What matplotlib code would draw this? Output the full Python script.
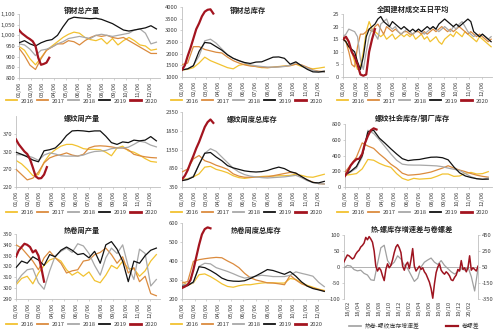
import numpy as np
import matplotlib
matplotlib.use('Agg')
import matplotlib.pyplot as plt
from matplotlib.ticker import FuncFormatter
from matplotlib.lines import Line2D

plt.rcParams['font.family'] = ['Noto Sans CJK SC', 'DejaVu Sans']
plt.rcParams['axes.unicode_minus'] = False

# ---------------- data ----------------
years = ['2016', '2017', '2018', '2019', '2020']
month_labels = ['01/06', '02/06', '03/06', '04/06', '05/06', '06/06',
                '07/06', '08/06', '09/06', '10/06', '11/06', '12/06']
month_days = [0, 31, 59, 90, 120, 151, 181, 212, 243, 273, 304, 334]

# panel 1: 钢材总产量 (biweekly)
p1_2016 = [948,930,890,862,895,930,950,970,990,1005,1015,1010,990,980,975,985,960,985,955,975,990,975,955,950,930,935]
p1_2017 = [940,905,860,840,890,930,945,960,960,975,970,955,975,990,1000,995,1000,990,985,990,975,960,945,930,915,915]
p1_2018 = [960,955,935,905,930,935,945,960,970,985,990,995,990,985,1000,1005,1000,995,1000,1005,1010,1025,1030,1010,960,968]
p1_2019 = [965,975,960,950,965,975,980,1000,1040,1075,1085,1082,1080,1078,1080,1075,1065,1055,1040,1025,1020,1025,1030,1035,1045,1030]
p1_2020 = [1025,1010,1000,990,982,972,950,895,862,866,872,895]

# panel 2: 钢材总库存
p2_2016 = [1300,1330,1400,1600,1850,1700,1600,1500,1400,1350,1500,1550,1500,1450,1400,1400,1420,1450,1470,1500,1550,1450,1400,1350,1380,1420]
p2_2017 = [1530,1600,2300,2300,2180,2120,2060,2030,1850,1700,1600,1520,1470,1450,1420,1400,1420,1440,1460,1480,1550,1520,1420,1300,1250,1230]
p2_2018 = [1310,1350,1500,1900,2550,2620,2450,2200,1950,1800,1700,1600,1520,1480,1450,1430,1420,1430,1450,1500,1620,1500,1380,1280,1230,1200]
p2_2019 = [1300,1350,1480,2100,2480,2450,2300,2150,1950,1800,1700,1620,1580,1640,1650,1750,1850,1860,1800,1550,1650,1480,1330,1220,1210,1250]
p2_2020 = [1310,1500,1900,2250,2650,3050,3300,3600,3800,3880,3900,3720]

# panel 3: 全国建材成交五日平均 (weekly)
p3_2016 = [15,14,12,10,6,3,4,10,18,22,19,18,17,16,17,15,16,17,15,16,17,16,17,16,17,15,16,17,15,16,14,15,16,14,13,15,16,17,16,18,17,16,18,17,16,15,14,16,15,14,13,12]
p3_2017 = [16,14,10,5,4,12,17,17,18,19,18,20,21,19,17,20,19,18,19,18,17,18,18,17,17,18,18,17,18,17,18,19,18,19,20,19,18,19,18,19,20,19,18,17,18,17,16,17,16,15,14,15]
p3_2018 = [16,17,19,18.5,18,16,7,3,10,16,19,17,15,21,22,23,20,19,20,18,17,18,19,18,17,18,19,18,17,18,19,20,19,18,19,20,19,18,20,19,21,22,20,18,17,16,17,16,17,16,15,16]
p3_2019 = [15,14,12,11,10,6,3,8,16,19,20,21,23,24,22,21,20,22,21,20,19,20,19,18,19,18,19,18,19,20,19,20,19,21,22,23,22,21,20,21,20,21,22,23,22,18,17,16,17,16,15,14]
p3_2020 = [15,16,14,10,8,5,1,0.5,1,10,15,19]

# panel 4: 螺纹周产量
p4_2016 = [295,285,270,252,255,290,312,325,335,340,340,335,328,326,326,325,318,308,330,335,322,318,310,300,292,290]
p4_2017 = [270,255,240,245,262,288,302,308,311,316,310,307,312,330,335,336,335,333,330,330,325,312,308,305,303,302]
p4_2018 = [311,311,308,303,295,310,316,313,308,307,307,307,310,316,320,321,323,328,330,330,332,340,349,346,338,333]
p4_2019 = [318,312,305,296,291,322,325,330,345,365,378,379,378,376,378,378,363,345,340,347,345,352,350,352,362,350]
p4_2020 = [354,340,330,320,313,298,275,250,244,245,255,276]

# panel 5: 螺纹周度总库存
p5_2016 = [550,570,620,700,880,900,820,780,730,650,600,580,600,620,630,640,640,650,650,660,690,660,620,610,650,690]
p5_2017 = [750,830,1100,1190,1050,1000,930,880,820,700,640,610,610,615,615,620,650,680,710,740,720,610,540,480,440,430]
p5_2018 = [520,560,640,950,1250,1370,1300,1150,1000,850,750,680,640,620,600,590,600,610,620,640,660,600,520,470,440,430]
p5_2019 = [520,550,620,950,1250,1270,1150,1050,920,860,820,780,760,750,760,790,840,880,840,760,720,630,540,470,460,500]
p5_2020 = [560,650,800,1000,1180,1380,1550,1750,1950,2080,2150,2060]

# panel 6: 螺纹社会库存/钢厂库存
p6_2016 = [150,158,170,230,350,340,300,270,250,170,110,85,110,100,105,110,135,165,165,135,140,175,185,165,170,195]
p6_2017 = [190,280,380,560,520,490,420,360,290,240,175,150,155,162,175,190,215,240,270,240,215,195,170,150,135,125]
p6_2018 = [150,190,240,380,720,680,600,510,420,340,290,280,278,278,275,272,268,258,240,225,210,170,130,105,98,115]
p6_2019 = [150,200,260,400,700,720,620,555,485,420,360,335,345,350,365,378,380,372,345,255,180,140,120,105,98,100]
p6_2020 = [140,200,275,320,353,360,420,560,650,720,745,730]

# panel 7: 热卷周产量
p7_2016 = [303,309,311,304,314,321,326,328,325,317,312,315,311,315,307,305,312,321,318,325,318,318,311,316,325,331]
p7_2017 = [340,337,331,325,317,328,334,328,323,314,316,317,325,326,331,333,337,331,323,329,314,319,306,311,295,293]
p7_2018 = [305,312,317,318,305,299,316,330,334,337,333,341,339,332,321,312,328,337,332,340,320,308,336,332,302,308]
p7_2019 = [319,325,323,329,326,321,331,329,335,338,335,331,332,328,334,323,340,343,336,325,306,325,323,330,335,337]
p7_2020 = [329,335,338,341,340,338,333,335,330,319,306]

# panel 8: 热卷周度总库存
p8_2016 = [293,272,285,328,332,318,300,280,266,262,270,275,275,280,284,286,285,284,284,308,303,285,272,262,252,245]
p8_2017 = [284,292,398,407,412,416,419,417,400,385,365,335,312,300,293,285,284,280,275,325,300,280,268,258,250,242]
p8_2018 = [275,278,285,372,388,385,365,355,345,333,320,310,315,320,325,322,318,318,318,325,343,335,328,320,288,265]
p8_2019 = [267,270,290,370,365,350,332,310,298,294,293,296,308,322,338,355,350,340,330,344,320,290,268,255,248,240]
p8_2020 = [258,265,275,300,354,420,485,540,568,577,572]

# panel 9: 热卷-螺纹库存增速差 (left) and 卷螺差 (right)
p9_labels = ['18/02', '18/04', '18/06', '18/08', '18/10', '18/12', '19/02',
             '19/04', '19/06', '19/08', '19/10', '19/12', '20/02']
p9_gap = [-3,5,3,-8,-12,-10,-20,-25,-40,-42,10,60,68,20,5,15,35,25,5,-5,-25,-45,-35,0,15,22,28,15,8,20,5,-5,-15,-22,-15,-5,-10,0,-30,-75,-5]
p9_spread = [115,160,200,190,170,150,165,210,240,260,300,320,350,420,390,430,400,360,250,60,0,40,10,-60,-120,20,90,40,70,140,
             230,300,330,290,230,60,10,80,110,30,140,280,60,0,30,60,20,40,-10,-40,-90,-140,-220,-340,-160,-20,50,90,10,-20,
             -40,-10,-30,-60,-110,-120,-80,-50,20,0,130,20,40,-10,40,190,10,40,20,0,60]

colors = ['#F2C230', '#DB8B3E', '#A8A8A8', '#111111', '#A3141F']
widths = [0.9, 0.9, 0.9, 0.9, 1.6]

panels = [
    dict(title='钢材总产量', data=[p1_2016, p1_2017, p1_2018, p1_2019, p1_2020], step=2,
         ylim=(800, 1100), yticks=[800, 850, 900, 950, 1000, 1050, 1100], comma=True,
         box=(19, 14, 160, 78), tpos=(82, 10), lpos=(82, 101)),
    dict(title='钢材总库存', data=[p2_2016, p2_2017, p2_2018, p2_2019, p2_2020], step=2,
         ylim=(1000, 4000), yticks=[1000, 1500, 2000, 2500, 3000, 3500, 4000], comma=False,
         box=(182, 7, 328, 77), tpos=(248, 10), lpos=(247, 101)),
    dict(title='全国建材成交五日平均', data=[p3_2016, p3_2017, p3_2018, p3_2019, p3_2020], step=1,
         ylim=(0, 25), yticks=[0, 5, 10, 15, 20, 25], comma=False,
         box=(343, 14, 492, 77), tpos=(413, 9), lpos=(413, 101)),
    dict(title='螺纹周产量', data=[p4_2016, p4_2017, p4_2018, p4_2019, p4_2020], step=2,
         ylim=(220, 420), yticks=[220, 270, 320, 370], comma=False,
         box=(16, 116, 160, 187), tpos=(82, 118), lpos=(82, 212)),
    dict(title='螺纹周度总库存', data=[p5_2016, p5_2017, p5_2018, p5_2019, p5_2020], step=2,
         ylim=(350, 2350), yticks=[350, 850, 1350, 1850, 2350], comma=False,
         box=(182, 112, 328, 187), tpos=(252, 119), lpos=(247, 212)),
    dict(title='螺纹社会库存/钢厂库存', data=[p6_2016, p6_2017, p6_2018, p6_2019, p6_2020], step=2,
         ylim=(0, 800), yticks=[0, 200, 400, 600, 800], comma=False,
         box=(345, 124, 492, 187), tpos=(412, 118), lpos=(413, 212)),
    dict(title='热卷周产量', data=[p7_2016, p7_2017, p7_2018, p7_2019, p7_2020], step=2,
         ylim=(290, 350), yticks=[290, 300, 310, 320, 330, 340, 350], comma=False,
         box=(16, 234, 160, 299), tpos=(82, 230), lpos=(82, 324)),
    dict(title='热卷周度总库存', data=[p8_2016, p8_2017, p8_2018, p8_2019, p8_2020], step=2,
         ylim=(200, 600), yticks=[200, 300, 400, 500, 600], comma=False,
         box=(182, 223, 328, 299), tpos=(256, 230), lpos=(247, 324)),
]

W, H = 500, 333
fig = plt.figure(figsize=(W / 100, H / 100), dpi=100)

def rect(l, t, r, b):
    return [l / W, 1 - b / H, (r - l) / W, (b - t) / H]

def fxy(x, y):
    return (x / W, 1 - y / H)

TICK_FS = 4.2
AX_C = '#BFBFBF'
TXT_C = '#404040'

month_pos = [d / 7.0 for d in month_days]

for p in panels:
    ax = fig.add_axes(rect(*p['box']))
    for i, vals in enumerate(p['data']):
        if i < 4:
            x = np.arange(len(vals)) * p['step']
        else:
            x = np.arange(len(vals))
        ax.plot(x, vals, color=colors[i], lw=widths[i], zorder=2 + i,
                solid_joinstyle='round')
    ax.set_xlim(0, 51.3)
    ax.set_ylim(*p['ylim'])
    ax.set_yticks(p['yticks'])
    if p['comma']:
        ax.yaxis.set_major_formatter(FuncFormatter(lambda v, _: f'{v:,.0f}'))
    ax.set_xticks(month_pos)
    ax.set_xticklabels(month_labels, rotation=90)
    for s in ['top', 'right']:
        ax.spines[s].set_visible(False)
    for s in ['left', 'bottom']:
        ax.spines[s].set_color(AX_C)
        ax.spines[s].set_linewidth(0.6)
    ax.tick_params(axis='both', labelsize=TICK_FS, colors=TXT_C, length=1.5,
                   width=0.5, pad=1.2)
    ax.tick_params(axis='both', color=AX_C)
    ax.patch.set_alpha(0)
    fig.text(*fxy(*p['tpos']), p['title'], ha='center', va='center',
             fontsize=5.2, fontweight='bold', color='#222222')
    handles = [Line2D([], [], color=colors[i], lw=widths[i] + 0.4) for i in range(5)]
    fig.legend(handles, years, loc='center', bbox_to_anchor=fxy(*p['lpos']),
               ncol=5, frameon=False, fontsize=TICK_FS, handlelength=1.9,
               handletextpad=0.6, columnspacing=0.6, borderpad=0.1,
               labelcolor=TXT_C)

# panel 9
ax = fig.add_axes(rect(344, 235, 478, 299))
x_gap = np.linspace(-0.86, 25.7, len(p9_gap))
x_spread = np.linspace(-0.86, 25.7, len(p9_spread))
ax.plot(x_gap, p9_gap, color='#A0A0A0', lw=0.9, zorder=3)
ax.axhline(0, color='#A6A6A6', lw=0.6, zorder=1)
ax.set_xlim(-0.86, 25.7)
ax.set_ylim(-100, 100)
ax.set_yticks([-100, -50, 0, 50, 100])
ax.set_xticks(np.arange(0, 26, 2))
ax.set_xticklabels(p9_labels, rotation=90)
ax2 = ax.twinx()
ax2.plot(x_spread, p9_spread, color='#9E1420', lw=1.1, zorder=4)
ax2.set_ylim(-350, 450)
ax2.set_yticks([-350, -150, 50, 250, 450])
for a in (ax, ax2):
    for s in ['top', 'bottom']:
        a.spines[s].set_visible(False)
    for s in ['left', 'right']:
        a.spines[s].set_color(AX_C)
        a.spines[s].set_linewidth(0.6)
    a.tick_params(axis='both', labelsize=TICK_FS, colors=TXT_C, length=1.5,
                  width=0.5, pad=1.2)
    a.tick_params(axis='both', color=AX_C)
ax.spines['right'].set_visible(False)
ax2.spines['left'].set_visible(False)
ax.tick_params(axis='x', length=0)
fig.text(*fxy(412, 229), '热-螺库存增速差与卷螺差', ha='center', va='center',
         fontsize=5.2, fontweight='bold', color='#222222')
h9 = [Line2D([], [], color='#A0A0A0', lw=1.2), Line2D([], [], color='#9E1420', lw=1.6)]
fig.legend(h9, ['热卷-螺纹库存增速差', '卷螺差'], loc='center',
           bbox_to_anchor=fxy(414, 326), ncol=2, frameon=False, fontsize=TICK_FS,
           handlelength=2.1, handletextpad=0.6, columnspacing=4.5, borderpad=0.1,
           labelcolor=TXT_C)

fig.savefig('out.png', dpi=100)
